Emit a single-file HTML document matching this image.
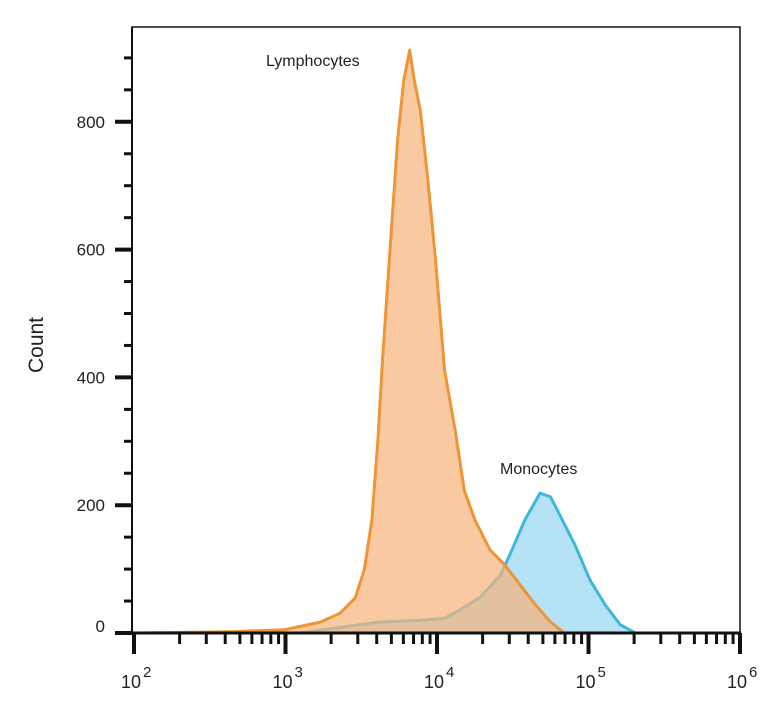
<!DOCTYPE html>
<html><head><meta charset="utf-8"><style>
body{margin:0;background:#fff;}
svg text{font-family:"Liberation Sans",Arial,sans-serif;fill:#222;}
</style></head><body>
<svg id="chart" width="779" height="700" xmlns="http://www.w3.org/2000/svg">
<g id="plot"></g>
</svg>
<script>
const lymphLog=[2.0,2.63,2.99,3.23,3.36,3.46,3.52,3.57,3.61,3.64,3.69,3.74,3.78,3.82,3.85,3.89,3.94,3.99,4.05,4.12,4.18,4.25,4.35,4.45,4.55,4.65,4.75,4.84,6.0];
const lymphCount=[0,2,5,17,31,55,99,177,302,427,599,771,865,912,865,818,709,584,411,317,223,177,130,106,75,44,17,0,0];
const monoLog=[3.10,3.49,3.62,3.89,4.05,4.15,4.28,4.42,4.48,4.58,4.68,4.75,4.81,4.91,5.01,5.11,5.21,5.31];
const monoCount=[0,13,17,20,23,36,55,91,122,177,219,213,185,138,83,44,13,0];
const yTicks=[0,200,400,600,800];
const xDecades=[2,3,4,5,6];

const NS="http://www.w3.org/2000/svg";
const L=132,R=740,T=27,B=633;
const xs=v=>134+(v-2)*151.5;
const ys=c=>B-c*0.639;
const svg=document.getElementById('plot');
function mk(tag,attrs){const e=document.createElementNS(NS,tag);for(const k in attrs)e.setAttribute(k,attrs[k]);svg.appendChild(e);return e;}
function pathOf(lx,cy){let d='';for(let i=0;i<lx.length;i++)d+=(i?'L':'M')+xs(lx[i]).toFixed(1)+','+ys(cy[i]).toFixed(1);return d;}

// frame
const fr=mk('rect',{x:L,y:T,width:R-L,height:B-T,fill:'none',stroke:'#111','stroke-width':1.5});



// monocytes
const md=pathOf(monoLog,monoCount);
const mf=mk('path',{d:md+'Z',fill:'#b5e2f5'});


const ms=mk('path',{d:md,fill:'none',stroke:'#3cb8dc','stroke-width':3,'stroke-linejoin':'round'});



// lymphocytes
const ld=pathOf(lymphLog,lymphCount);
const lf=mk('path',{d:ld+'Z',fill:'#f6b479','fill-opacity':0.7});


const ls=mk('path',{d:ld,fill:'none',stroke:'#ee9538','stroke-width':3,'stroke-linejoin':'round'});



// axis lines
const xa=mk('line',{x1:L,x2:R+1,y1:B,y2:B,stroke:'#111','stroke-width':3});


const ya=mk('line',{x1:L,x2:L,y1:T,y2:B,stroke:'#111','stroke-width':2});



// y ticks
for(let c=0;c<=900;c+=50){
  const major=c%200===0;
  const t=mk('line',{x1:major?115:124,x2:L,y1:ys(c),y2:ys(c),stroke:'#111','stroke-width':major?4:3});
  
  
}
yTicks.forEach(c=>{
  const t=mk('text',{x:105,y:ys(c)+(c===0?-1:6),'text-anchor':'end','font-size':17});
  t.textContent=c;
  
  
});

// x ticks
xDecades.forEach((d,i)=>{
  const t=mk('line',{x1:xs(d),x2:xs(d),y1:B,y2:654,stroke:'#111','stroke-width':4});
  
  
  const tx=mk('text',{x:xs(d)-3,y:688,'text-anchor':'middle','font-size':18});
  tx.textContent='10';
  
  
  const sp=mk('text',{x:xs(d)+9,y:677,'font-size':15});
  sp.textContent=d;
  
  
  if(i<xDecades.length-1){
    for(let m=2;m<=9;m++){
      const v=d+Math.log10(m);
      const mt=mk('line',{x1:xs(v),x2:xs(v),y1:B,y2:644,stroke:'#111','stroke-width':3});
      
      
    }
  }
});

// labels
const yt=mk('text',{x:0,y:0,'font-size':21,'text-anchor':'middle',transform:'translate(43,345) rotate(-90)'});
yt.textContent='Count';


const l1=mk('text',{x:266,y:66,'font-size':16});
l1.textContent='Lymphocytes';


const l2=mk('text',{x:500,y:474,'font-size':16});
l2.textContent='Monocytes';


</script>
</body></html>
